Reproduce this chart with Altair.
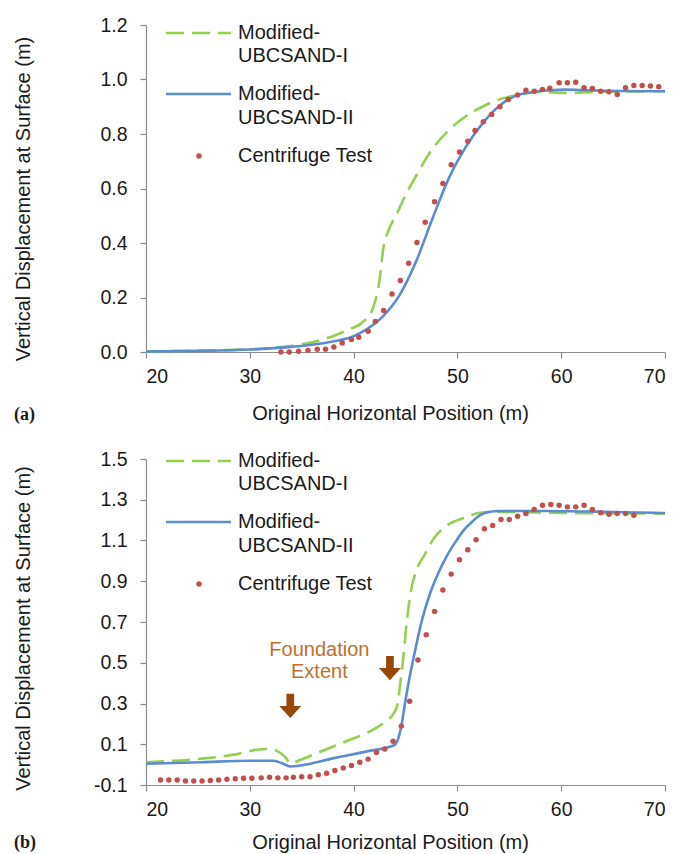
import altair as alt
import pandas as pd

# ---------------- data ----------------
X_TICKS = [20, 30, 40, 50, 60, 70]
A_Y_TICKS = [0.0, 0.2, 0.4, 0.6, 0.8, 1.0, 1.2]
B_Y_TICKS = [-0.1, 0.1, 0.3, 0.5, 0.7, 0.9, 1.1, 1.3, 1.5]

# Panel (a)
A_I_X = [20, 25, 30, 33, 35, 36.4, 38, 39.5, 40.9, 41.8, 42.5, 42.9, 43.3, 44.2, 45.0, 46.0,
         47.5, 49.2, 50.8, 52.4, 54.1, 55.6, 58.1, 60.4, 65, 70]
A_I_Y = [0.002, 0.005, 0.01, 0.018, 0.028, 0.039, 0.058, 0.082, 0.11, 0.155, 0.265, 0.39, 0.44,
         0.51, 0.575, 0.645, 0.74, 0.815, 0.865, 0.9, 0.928, 0.942, 0.954, 0.951, 0.955, 0.957]

A_II_X = [20, 25, 30, 33, 35, 37, 38.5, 40, 41.2, 42.8, 44.4, 46.0, 47.6, 49.2, 50.8, 52.4,
          54.0, 55.6, 57.2, 58.8, 60.4, 62.0, 65.2, 70]
A_II_Y = [0.002, 0.004, 0.009, 0.016, 0.022, 0.032, 0.042, 0.058, 0.082, 0.13, 0.207, 0.33,
          0.49, 0.64, 0.752, 0.838, 0.902, 0.94, 0.954, 0.96, 0.963, 0.961, 0.958, 0.957]

A_TEST_X = [33.0, 33.8, 34.7, 35.6, 36.5, 37.3, 38.1, 38.9, 39.8, 40.5, 41.4, 42.1, 42.9, 43.7,
            44.5, 45.3, 46.1, 46.9, 47.8, 48.6, 49.4, 50.2, 51.0, 51.7, 52.5, 53.3, 54.1, 54.9,
            55.8, 56.6, 57.4, 58.2, 58.9, 59.8, 60.6, 61.4, 62.2, 63.0, 63.8, 64.6, 65.4, 66.2,
            67.0, 67.8, 68.6, 69.4]
A_TEST_Y = [0.0, 0.0, 0.003, 0.006, 0.01, 0.01, 0.018, 0.033, 0.046, 0.054, 0.076, 0.112, 0.152,
            0.213, 0.262, 0.326, 0.402, 0.476, 0.551, 0.618, 0.687, 0.734, 0.773, 0.813, 0.845,
            0.872, 0.900, 0.927, 0.943, 0.961, 0.957, 0.963, 0.968, 0.988, 0.988, 0.99, 0.970,
            0.967, 0.957, 0.955, 0.945, 0.970, 0.978, 0.978, 0.976, 0.973]

# Panel (b)
B_I_X = [20.0, 25.3, 28.5, 30.7, 31.7, 32.7, 33.5, 33.9, 34.9, 36.5, 38.1, 39.7, 41.3, 42.9,
         43.9, 44.2, 44.5, 44.8, 45.0, 45.5, 46.1, 46.8, 47.7, 49.0, 50.6, 52.2, 53.8, 60, 70]
B_I_Y = [0.012, 0.029, 0.049, 0.073, 0.077, 0.065, 0.032, 0.005, 0.024, 0.057, 0.09, 0.123,
         0.156, 0.205, 0.255, 0.29, 0.40, 0.53, 0.64, 0.845, 0.96, 1.026, 1.108, 1.174, 1.21,
         1.236, 1.24, 1.235, 1.232]

B_II_X = [20, 25.3, 30.1, 32.3, 33.1, 33.9, 34.9, 38.1, 41.3, 43.9, 44.2, 44.6, 45.0, 45.4,
          45.8, 46.6, 47.4, 48.2, 49.0, 49.8, 50.6, 51.4, 52.2, 53.0, 54.1, 58.6, 65.0, 70]
B_II_Y = [0.004, 0.012, 0.019, 0.019, 0.007, -0.009, -0.004, 0.032, 0.065, 0.095, 0.115, 0.19,
          0.316, 0.43, 0.53, 0.712, 0.845, 0.944, 1.026, 1.092, 1.15, 1.191, 1.224, 1.24, 1.245,
          1.245, 1.24, 1.235]

B_TEST_X = [21.4, 22.2, 23.0, 23.8, 24.6, 25.4, 26.2, 27.0, 27.8, 28.6, 29.4, 30.2, 31.1, 31.9,
            32.7, 33.5, 34.2, 35.0, 35.8, 36.6, 37.4, 38.2, 39.0, 39.8, 40.6, 41.4, 42.2, 43.0,
            43.8, 44.6, 45.4, 46.2, 47.0, 47.8, 48.6, 49.4, 50.2, 51.0, 51.8, 52.6, 53.4, 54.2,
            55.0, 55.8, 56.6, 57.4, 58.2, 59.0, 59.8, 60.6, 61.4, 62.2, 63.0, 63.8, 64.6, 65.4,
            66.2, 67.0]
B_TEST_Y = [-0.075, -0.075, -0.075, -0.08, -0.08, -0.08, -0.078, -0.075, -0.072, -0.069, -0.067,
            -0.067, -0.065, -0.062, -0.065, -0.065, -0.062, -0.06, -0.059, -0.05, -0.042, -0.029,
            -0.017, -0.004, 0.012, 0.027, 0.06, 0.077, 0.115, 0.189, 0.311, 0.514, 0.637, 0.751,
            0.857, 0.935, 1.006, 1.055, 1.104, 1.158, 1.174, 1.203, 1.203, 1.219, 1.232, 1.252,
            1.273, 1.277, 1.273, 1.265, 1.265, 1.273, 1.252, 1.236, 1.229, 1.232, 1.232, 1.224]

ANNOT_TEXT = ["Foundation", "Extent"]
ANNOT_X = [36.7, 36.7]
ANNOT_Y = [0.563, 0.455]
ARROW_X = [33.9, 43.5]
ARROW_Y = [0.288, 0.474]

LEGEND_LINES = ["Modified-", "UBCSAND-I", "Modified-", "UBCSAND-II", "Centrifuge Test"]

# ---------------- style ----------------
FONT = "Liberation Sans"
GREEN = "#92D050"
BLUE = "#5B8BD0"
RED = "#C0504D"
ARROW_COLOR = "#974806"
ANNOT_COLOR = "#BF6F2C"
TEXT_COLOR = "#1a1a1a"
AXIS_COLOR = "#8c8c8c"
ARROW_PATH = "M-0.35,-1.1 L0.35,-1.1 L0.35,0 L1,0 L0,1.1 L-1,0 L-0.35,0 Z"
W = 519


def y_label_expr():
    return ("datum.value < 0 ? '-' + format(-datum.value, '.1f') : format(datum.value, '.1f')")


def panel(ix, iy, iix, iiy, tx, ty, ydom, yticks, h, leg_off, ytitle_shift, xtitle_pad,
          tag, tag_dy, annotate=False):
    xs = alt.Scale(domain=[20, 70], nice=False, zero=False)
    ys = alt.Scale(domain=ydom, nice=False, zero=False)
    xax = alt.Axis(values=X_TICKS, format="d", grid=False,
                   title="Original Horizontal Position (m)",
                   titleX=244, titlePadding=xtitle_pad,
                   tickSize=6, labelPadding=9)
    yax = alt.Axis(values=yticks, labelExpr=y_label_expr(), grid=False,
                   title="Vertical Displacement at Surface (m)",
                   titleX=-113, titleY=h / 2 + ytitle_shift,
                   tickSize=6, labelPadding=13)
    X = alt.X("x:Q", scale=xs, axis=xax)
    Y = alt.Y("y:Q", scale=ys, axis=yax)

    df_i = pd.DataFrame({"x": ix, "y": iy})
    df_ii = pd.DataFrame({"x": iix, "y": iiy})
    df_t = pd.DataFrame({"x": tx, "y": ty})

    line_i = alt.Chart(df_i).mark_line(
        color=GREEN, strokeWidth=2.6, strokeDash=[18, 8], interpolate="monotone"
    ).encode(x=X, y=Y)
    line_ii = alt.Chart(df_ii).mark_line(
        color=BLUE, strokeWidth=2.6, interpolate="monotone"
    ).encode(x=X, y=Y)
    pts = alt.Chart(df_t).mark_circle(color=RED, size=30, opacity=1).encode(x=X, y=Y)

    layers = [line_i, line_ii, pts]

    if annotate:
        df_a = pd.DataFrame({"x": ANNOT_X, "y": ANNOT_Y, "t": ANNOT_TEXT})
        df_arr = pd.DataFrame({"x": ARROW_X, "y": ARROW_Y})
        layers.append(alt.Chart(df_a).mark_text(
            font=FONT, fontSize=20, color=ANNOT_COLOR, align="center", baseline="middle"
        ).encode(x=X, y=Y, text="t:N"))
        layers.append(alt.Chart(df_arr).mark_point(
            shape=ARROW_PATH, filled=True, size=484, color=ARROW_COLOR, opacity=1, strokeWidth=0
        ).encode(x=X, y=Y))

    one = pd.DataFrame({"k": [0]})
    # manual legend (plot-relative pixels)
    layers.append(alt.Chart(one).mark_rule(color=GREEN, strokeWidth=2.6, strokeDash=[18, 8]).encode(
        x=alt.value(20), x2=alt.value(85), y=alt.value(8 + leg_off)))
    layers.append(alt.Chart(one).mark_rule(color=BLUE, strokeWidth=2.6).encode(
        x=alt.value(20), x2=alt.value(85), y=alt.value(69 + leg_off)))
    layers.append(alt.Chart(one).mark_circle(color=RED, size=30, opacity=1).encode(
        x=alt.value(53), y=alt.value(131 + leg_off)))
    for lab, yy in zip(LEGEND_LINES, [8, 31, 69, 93, 131]):
        layers.append(alt.Chart(pd.DataFrame({"t": [lab]})).mark_text(
            font=FONT, fontSize=20, color=TEXT_COLOR, align="left", baseline="middle"
        ).encode(x=alt.value(92), y=alt.value(yy + leg_off), text="t:N"))

    layers.append(alt.Chart(pd.DataFrame({"t": [tag]})).mark_text(
        font="Liberation Serif", fontWeight="bold", fontSize=18, color=TEXT_COLOR,
        align="left", baseline="middle"
    ).encode(x=alt.value(-132), y=alt.value(h + tag_dy), text="t:N"))

    return alt.layer(*layers).properties(width=W, height=h)


top = panel(A_I_X, A_I_Y, A_II_X, A_II_Y, A_TEST_X, A_TEST_Y, [0, 1.2], A_Y_TICKS,
            327, 0, 10, 18, "(a)", 63)
bottom = panel(B_I_X, B_I_Y, B_II_X, B_II_Y, B_TEST_X, B_TEST_Y, [-0.1, 1.5], B_Y_TICKS,
               326, -6, 6, 14, "(b)", 58, annotate=True)

chart = alt.vconcat(top, bottom, spacing=23).properties(
    padding={"left": 12, "top": 14, "right": 4, "bottom": 0}
).configure_view(stroke="transparent").configure_axis(
    domainColor=AXIS_COLOR, tickColor=AXIS_COLOR, domainWidth=1.2, tickWidth=1.2,
    labelFont=FONT, labelFontSize=19.5, labelColor=TEXT_COLOR,
    titleFont=FONT, titleFontSize=20, titleFontWeight="normal", titleColor=TEXT_COLOR
)

chart.save("out.html", embed_options={"renderer": "svg", "actions": False})
